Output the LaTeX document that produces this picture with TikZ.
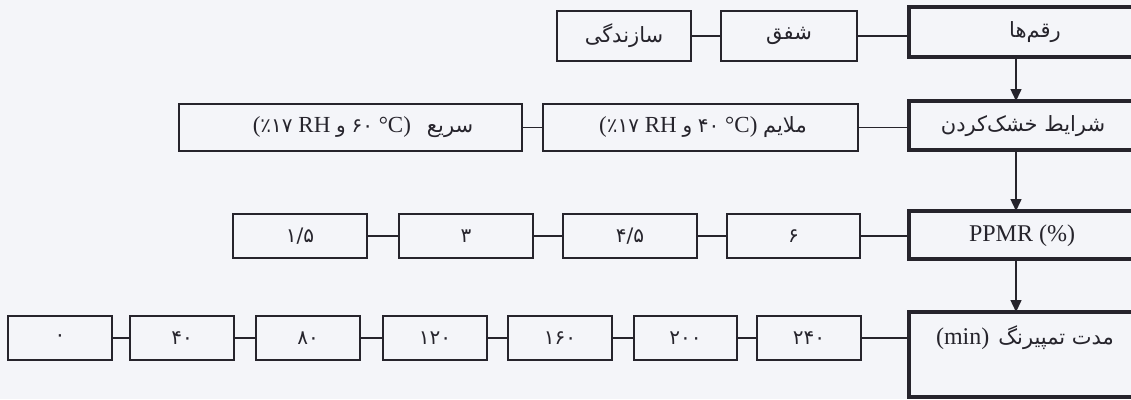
\documentclass[tikz,border=0pt]{standalone}
\usepackage{fontspec}
\setmainfont{Liberation Serif}
\newfontfamily\fa[Script=Arabic]{DejaVu Sans}
\TeXXeTstate=1
\usetikzlibrary{arrows.meta}

\definecolor{paper}{RGB}{244,245,249}
\definecolor{ink}{RGB}{38,36,44}

\newcommand\fanum{\fa\fontsize{20}{24}\selectfont}
\newcommand\faword{\fa\fontsize{21}{25}\selectfont}

\tikzset{
  box/.style={draw=ink, line width=1.5pt, inner sep=0pt, outer sep=0pt},
  mainbox/.style={draw=ink, line width=3.2pt, inner sep=0pt, outer sep=0pt},
  link/.style={draw=ink, line width=1.6pt},
  flow/.style={draw=ink, line width=1.5pt, -{Triangle[length=12pt,width=11pt]}},
  lbl/.style={inner sep=0pt, text=ink},
  num/.style={lbl, font=\fanum},
  word/.style={lbl, font=\faword},
  latin/.style={lbl, font=\fontsize{24}{28}\selectfont},
  mixed/.style={lbl, font=\fontsize{23}{27}\selectfont},
}

\begin{document}
\begin{tikzpicture}[x=1pt,y=-1pt]
\useasboundingbox (0,0) rectangle (1131,399);
\clip (0,0) rectangle (1131,399);
\fill[paper] (0,0) rectangle (1131,399);

% main column (right)
\node[mainbox, minimum width=228, minimum height=50] (rag)  at (1023,32) {};
\node[mainbox, minimum width=228, minimum height=49] (cond) at (1023,125.5) {};
\node[mainbox, minimum width=228, minimum height=48] (ppmr) at (1023,235) {};
\node[mainbox, minimum width=228, minimum height=85] (temp) at (1023,354.5) {};

\node[word] (tRag) at (1035,32) {\beginR رقم‌ها\endR};
\node[word] (tCond) at (1023,126) {\beginR شرایط خشک‌کردن\endR};
\node[latin] (tPpmr) at (1022,236) {PPMR (\%)};
\node[lbl] (tTemp) at (1025,338) {{\fontsize{24}{28}\selectfont (min)}\hspace{9pt}{\faword\beginR مدت تمپیرنگ\endR}};

% row 1: cultivars
\node[box, minimum width=136, minimum height=50] (shafagh) at (789,36) {};
\node[box, minimum width=134, minimum height=50] (saz) at (624,36) {};
\node[word] at (shafagh) {شفق};
\node[word] at (saz) {سازندگی};

% row 2: drying conditions
\node[box, minimum width=315, minimum height=47] (mild) at (700.5,127.5) {};
\node[box, minimum width=343, minimum height=47] (fast) at (350.5,127.5) {};
\node[mixed] at (703,127.5)
  {({\fanum ٪۱۷}\ RH\ {\fanum و}\ {\fanum ۴۰}\ °C)\ {\fa\fontsize{21}{25}\selectfont ملایم}};
\node[mixed] at (363,127.5)
  {({\fanum ٪۱۷}\ RH\ {\fanum و}\ {\fanum ۶۰}\ °C)\hspace{16pt}{\fa\fontsize{21}{25}\selectfont سریع}};

% row 3: moisture levels
\node[box, minimum width=133, minimum height=44] (m6)  at (793.5,236) {};
\node[box, minimum width=134, minimum height=44] (m45) at (630,236) {};
\node[box, minimum width=134, minimum height=44] (m3)  at (466,236) {};
\node[box, minimum width=134, minimum height=44] (m15) at (300,236) {};
\node[num] at (m6)  {۶};
\node[num] at (m45) {۴/۵};
\node[num] at (m3)  {۳};
\node[num] at (m15) {۱/۵};

% row 4: tempering times
\node[box, minimum width=104, minimum height=44] (d240) at (809,338) {};
\node[box, minimum width=103, minimum height=44] (d200) at (685.5,338) {};
\node[box, minimum width=104, minimum height=44] (d160) at (560,338) {};
\node[box, minimum width=104, minimum height=44] (d120) at (435,338) {};
\node[box, minimum width=104, minimum height=44] (d80)  at (308,338) {};
\node[box, minimum width=104, minimum height=44] (d40)  at (182,338) {};
\node[box, minimum width=104, minimum height=44] (d0)   at (60,338) {};
\node[num] at (d240) {۲۴۰};
\node[num] at (d200) {۲۰۰};
\node[num] at (d160) {۱۶۰};
\node[num] at (d120) {۱۲۰};
\node[num] at (d80)  {۸۰};
\node[num] at (d40)  {۴۰};
\node[num] at (d0)   {۰};

% horizontal links
\draw[link] (saz.east) -- (shafagh.west);
\draw[link] (shafagh.east) -- (shafagh.east -| rag.west);
\draw[link] (fast.east) -- (mild.west);
\draw[link] (mild.east) -- (mild.east -| cond.west);
\draw[link] (m15.east) -- (m3.west);
\draw[link] (m3.east) -- (m45.west);
\draw[link] (m45.east) -- (m6.west);
\draw[link] (m6.east) -- (m6.east -| ppmr.west);
\draw[link] (d0.east) -- (d40.west);
\draw[link] (d40.east) -- (d80.west);
\draw[link] (d80.east) -- (d120.west);
\draw[link] (d120.east) -- (d160.west);
\draw[link] (d160.east) -- (d200.west);
\draw[link] (d200.east) -- (d240.west);
\draw[link] (d240.east) -- (d240.east -| temp.west);

% vertical flow
\coordinate (ax) at (1016,0);
\draw[flow] (rag.south -| ax) -- (cond.north -| ax);
\draw[flow] (cond.south -| ax) -- (ppmr.north -| ax);
\draw[flow] (ppmr.south -| ax) -- (temp.north -| ax);
\end{tikzpicture}
\end{document}
